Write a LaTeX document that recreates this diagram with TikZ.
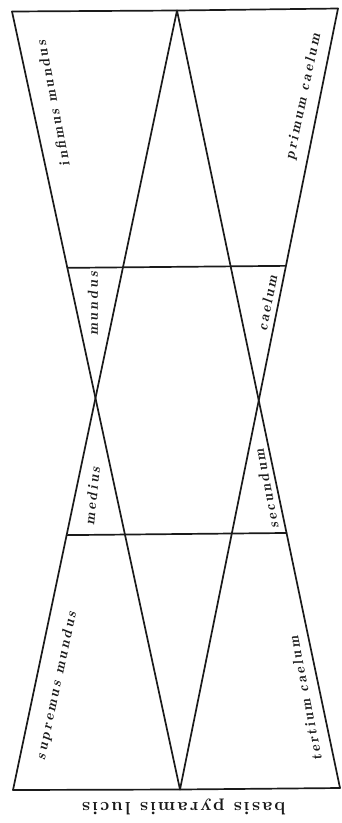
\documentclass[tikz,border=0pt]{standalone}
\usepackage{fontspec}
\setmainfont{lmroman10-regular}[Extension=.otf, ItalicFont=lmroman10-italic, BoldFont=lmroman10-bold, BoldItalicFont=lmroman10-bolditalic]
\newfontfamily\lblfont{lmromandemi10-oblique}[Extension=.otf]
\usetikzlibrary{calc}
\definecolor{ink}{HTML}{1A1A1A}
\makeatletter
\newcommand\spaced[3]{%
  \setbox0=\hbox{#3}%
  \dimen@=\wd0\relax
  \edef\natw{\strip@pt\dimen@}%
  \pgfmathsetmacro\lsgap{(#1-\natw)/((#2)-1)}%
  \pgfmathsetmacro\lsamt{100*\lsgap/\f@size}%
  \kern\lsgap pt{\addfontfeatures{LetterSpace=\lsamt}#3}}
\makeatother
\begin{document}
\begin{tikzpicture}[x=1pt,y=-1pt,
  edge/.style={draw=ink, line width=1.7pt, line cap=round, line join=round},
  lbl/.style={inner sep=0pt, text=ink, font=\lblfont\fontsize{14.5}{14.5}\selectfont},
  base/.style={inner sep=0pt, text=ink, font=\bfseries\fontsize{18}{18}\selectfont}]
\useasboundingbox (0,0) rectangle (341,823);
\fill[white] (0,0) rectangle (341,823);
\coordinate (TL) at (12,11.5);
\coordinate (TC) at (177,10.5);
\coordinate (TR) at (338,8.5);
\coordinate (BL) at (13,790);
\coordinate (BC) at (180,789.5);
\coordinate (BR) at (340,788);
\coordinate (L) at (intersection of TL--BC and TC--BL);
\coordinate (R) at (intersection of TC--BR and TR--BC);
\coordinate (HaL) at ($(TL)!0.3295!(BC)$);
\coordinate (HaR) at ($(TR)!0.3295!(BC)$);
\coordinate (HbL) at ($(TC)!0.673!(BL)$);
\coordinate (HbR) at ($(TC)!0.672!(BR)$);
\draw[edge] (TL) -- (TC) -- (TR);
\draw[edge] (BL) -- (BC) -- (BR);
\draw[edge] (TL) -- (L) -- (BC);
\draw[edge] (TC) -- (L) -- (BL);
\draw[edge] (TC) -- (R) -- (BR);
\draw[edge] (TR) -- (R) -- (BC);
\draw[edge] (HaL) -- (HaR);
\draw[edge] (HbL) -- (HbR);
\node[lbl, rotate=101] (infimus) at (53,105) {\spaced{130}{13}{infimus mundus}};
\node[lbl, rotate=78] (primum) at (303.3,98) {\spaced{128}{12}{primum caelum}};
\node[lbl, rotate=78] (supremus) at (56.7,687) {\spaced{151}{14}{supremus mundus}};
\node[lbl, rotate=101] (tertium) at (305.4,700) {\spaced{126}{13}{tertium caelum}};
\node[lbl, rotate=90] (mundus) at (93,305) {\spaced{64}{6}{mundus}};
\node[lbl, rotate=79] (caelum) at (267,304) {\spaced{56}{6}{caelum}};
\node[lbl, rotate=84] (medius) at (92,497) {\spaced{58}{6}{medius}};
\node[lbl, rotate=101] (secundum) at (266.5,490) {\spaced{80}{8}{secundum}};
\node[base, rotate=180] (basis) at (185,807) {\spaced{204}{17}{basis pyramis lucis}};
\end{tikzpicture}
\end{document}
